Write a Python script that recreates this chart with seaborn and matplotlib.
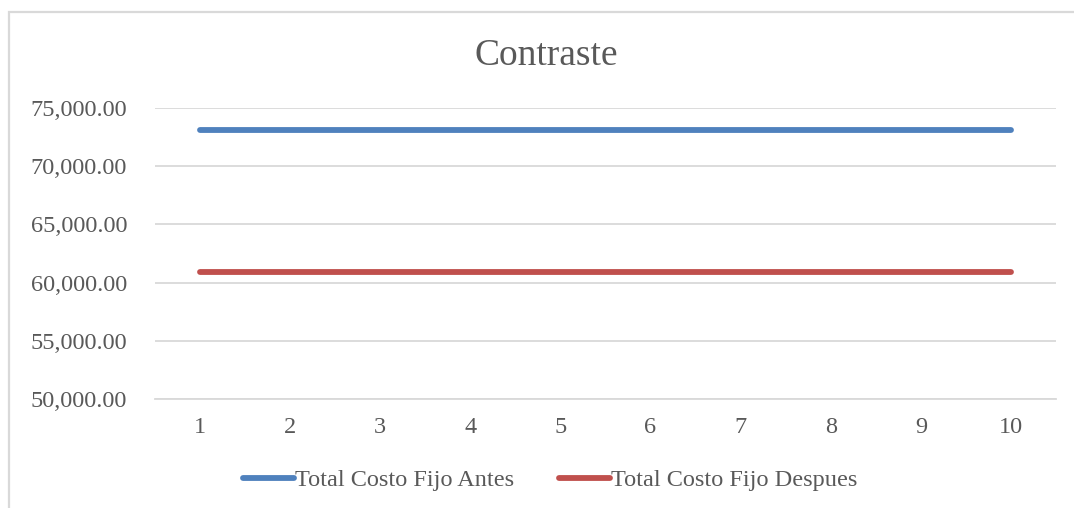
import matplotlib
matplotlib.use("Agg")
import matplotlib.pyplot as plt
import seaborn as sns
import pandas as pd
from matplotlib.patches import Rectangle
from matplotlib.lines import Line2D
from matplotlib.ticker import FuncFormatter, FixedLocator

periodos = [1, 2, 3, 4, 5, 6, 7, 8, 9, 10]
antes = [73150, 73150, 73150, 73150, 73150, 73150, 73150, 73150, 73150, 73150]
despues = [60950, 60950, 60950, 60950, 60950, 60950, 60950, 60950, 60950, 60950]
series_names = ["Total Costo Fijo Antes", "Total Costo Fijo Despues"]
y_ticks = [50000, 55000, 60000, 65000, 70000, 75000]

df = pd.DataFrame({
    "Periodo": periodos * 2,
    "Valor": antes + despues,
    "Serie": [series_names[0]] * len(periodos) + [series_names[1]] * len(periodos),
})

sns.set_theme(style="white")
plt.rcParams["font.family"] = ["Liberation Serif", "DejaVu Serif"]
text_color = "#595959"
grid_color = "#D9D9D9"

W, H = 1074, 508
fig = plt.figure(figsize=(W / 100, H / 100), dpi=100)
fig.patch.set_facecolor("white")
ax = fig.add_axes([155 / W, 1 - 399 / H, (1056 - 155) / W, (399 - 108) / H])

palette = {series_names[0]: "#4F81BD", series_names[1]: "#C0504D"}
sns.lineplot(data=df, x="Periodo", y="Valor", hue="Serie", palette=palette,
             linewidth=4.2, ax=ax, legend=False, solid_capstyle="round")

ax.set_xlim(0.5, 10.5)
ax.set_ylim(50000, 75000)
ax.yaxis.set_major_locator(FixedLocator(y_ticks))
ax.set_xticks(periodos)
ax.yaxis.set_major_formatter(FuncFormatter(lambda v, p: f"{v:,.2f}"))
ax.grid(axis="y", color=grid_color, linewidth=1.3)
ax.set_axisbelow(True)
for s in ["top", "right", "left"]:
    ax.spines[s].set_visible(False)
ax.spines["bottom"].set_color(grid_color)
ax.spines["bottom"].set_linewidth(1.3)
ax.tick_params(axis="both", length=0, labelsize=17.5, colors=text_color)
ax.tick_params(axis="y", pad=20)
ax.tick_params(axis="x", pad=13)
ax.set_xlabel("")
ax.set_ylabel("")

fig.text(546 / W, 1 - 56 / H, "Contraste", ha="center", va="center",
         fontsize=27, color=text_color)

handles = [Line2D([0], [0], color=palette[n], linewidth=4.2, solid_capstyle="round") for n in series_names]
leg = fig.legend(handles, series_names, loc="center", bbox_to_anchor=(550 / W, 1 - 480 / H),
                 ncol=2, frameon=False, fontsize=17.5, handlelength=2.1,
                 handletextpad=0.05, columnspacing=1.85)
for t in leg.get_texts():
    t.set_color(text_color)

fig.add_artist(Rectangle((8.5 / W, -0.1), 1.2, 1.1 - 12 / H, transform=fig.transFigure,
                         fill=False, edgecolor=grid_color, linewidth=1.6))

fig.savefig("out.png", dpi=100, facecolor="white")
